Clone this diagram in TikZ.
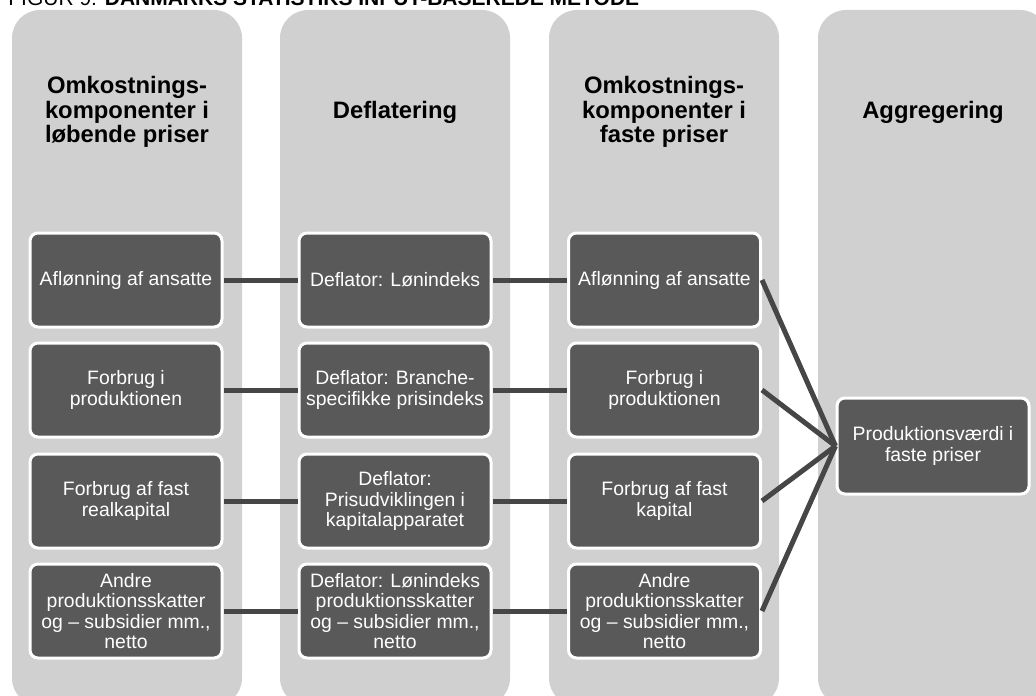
\documentclass[tikz,border=0pt]{standalone}
\usepackage{fontspec}
\usepackage{xcolor}
\setmainfont{Liberation Sans}

\definecolor{colgray}{RGB}{208,208,208}
\definecolor{boxgray}{RGB}{89,89,89}
\definecolor{linegray}{RGB}{70,70,70}

\tikzset{
  colhead/.style={font=\fontsize{11.9}{12.3}\selectfont\bfseries, align=center, inner sep=0pt},
  costbox/.style={fill=boxgray, draw=white, line width=1.5pt, rounded corners=4pt,
    minimum width=96pt, minimum height=47pt, inner sep=0pt, align=center,
    text=white, font=\fontsize{9.7}{10.1}\selectfont},
  link/.style={draw=linegray, line width=2.5pt},
}

\begin{document}
\begin{tikzpicture}[x=0.5pt,y=-0.5pt]
                % Page frame
                \useasboundingbox (0,0) rectangle (1036,695);
                % Title
                \node[anchor=base west, inner sep=0pt, font=\fontsize{10.5}{12}\selectfont] (title) at (8,6)
                    {FIGUR 9: \textbf{DANMARKS STATISTIKS INPUT-BASEREDE METODE}};

                % Columns
                \fill[colgray, rounded corners=14pt] (12,10) rectangle (242,706);
                \fill[colgray, rounded corners=14pt] (280,10) rectangle (510,706);
                \fill[colgray, rounded corners=14pt] (549,10) rectangle (779,706);
                \fill[colgray, rounded corners=14pt] (818,10) rectangle (1048,706);

                % Column headings
                \node[colhead] (hcur) at (127,112) {Omkostnings-\\komponenter i\\løbende priser};
                \node[colhead] (hdefl) at (395,112) {Deflatering};
                \node[colhead] (hfix) at (664,112) {Omkostnings-\\komponenter i\\faste priser};
                \node[colhead] (hagg) at (933,112) {Aggregering};

                % Current prices
                \node[costbox] (cur1) at (126,280) {Aflønning af ansatte};
                \node[costbox] (cur2) at (126,390) {Forbrug i\\produktionen};
                \node[costbox] (cur3) at (126,501) {Forbrug af fast\\realkapital};
                \node[costbox] (cur4) at (126,611) {Andre\\produktionsskatter\\og -- subsidier mm.,\\netto};

                % Deflators
                \node[costbox] (defl1) at (395,280) {Deflator: Lønindeks};
                \node[costbox] (defl2) at (395,390) {Deflator: Branche-\\specifikke prisindeks};
                \node[costbox] (defl3) at (395,501) {Deflator:\\Prisudviklingen i\\kapitalapparatet};
                \node[costbox] (defl4) at (395,611) {Deflator: Lønindeks\\produktionsskatter\\og -- subsidier mm.,\\netto};

                % Fixed prices
                \node[costbox] (fix1) at (664.5,280) {Aflønning af ansatte};
                \node[costbox] (fix2) at (664.5,390) {Forbrug i\\produktionen};
                \node[costbox] (fix3) at (664.5,501) {Forbrug af fast\\kapital};
                \node[costbox] (fix4) at (664.5,611) {Andre\\produktionsskatter\\og -- subsidier mm.,\\netto};

                % Aggregate
                \node[costbox, minimum height=48pt] (agg) at (933,446) {Produktionsværdi i\\faste priser};

                % Links current -> deflator
                \draw[link] (cur1.east) -- (defl1.west);
                \draw[link] (cur2.east) -- (defl2.west);
                \draw[link] (cur3.east) -- (defl3.west);
                \draw[link] (cur4.east) -- (defl4.west);
                % Links deflator -> fixed
                \draw[link] (defl1.east) -- (fix1.west);
                \draw[link] (defl2.east) -- (fix2.west);
                \draw[link] (defl3.east) -- (fix3.west);
                \draw[link] (defl4.east) -- (fix4.west);
                % Links fixed -> aggregate
                \draw[link] (fix1.east) -- (agg.west);
                \draw[link] (fix2.east) -- (agg.west);
                \draw[link] (fix3.east) -- (agg.west);
                \draw[link] (fix4.east) -- (agg.west);
            \end{tikzpicture}
\end{document}
